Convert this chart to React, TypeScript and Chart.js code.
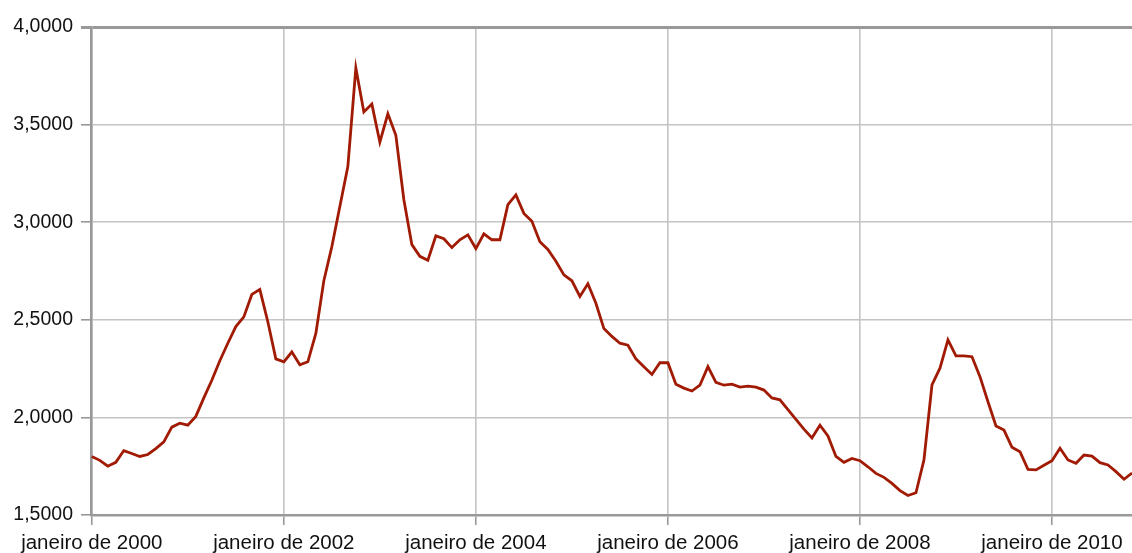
import React, { useEffect, useRef } from "react";
import { Chart, registerables } from "chart.js";

Chart.register(...registerables);

// Monthly BRL/USD rate, January 2000 – November 2010
const rates2000 = [1.8, 1.78, 1.75, 1.77, 1.83, 1.815, 1.8, 1.81, 1.84, 1.875, 1.95, 1.97];
const rates2001 = [1.96, 2.005, 2.1, 2.19, 2.29, 2.38, 2.465, 2.515, 2.63, 2.655, 2.49, 2.3];
const rates2002 = [2.285, 2.335, 2.27, 2.285, 2.43, 2.7, 2.875, 3.08, 3.285, 3.79, 3.565, 3.605];
const rates2003 = [3.41, 3.555, 3.445, 3.115, 2.885, 2.825, 2.805, 2.93, 2.915, 2.87, 2.91, 2.935];
const rates2004 = [2.865, 2.94, 2.91, 2.91, 3.09, 3.14, 3.045, 3.005, 2.9, 2.86, 2.8, 2.73];
const rates2005 = [2.7, 2.62, 2.685, 2.585, 2.455, 2.415, 2.38, 2.37, 2.3, 2.26, 2.22, 2.28];
const rates2006 = [2.28, 2.17, 2.15, 2.135, 2.165, 2.26, 2.18, 2.165, 2.17, 2.155, 2.16, 2.155];
const rates2007 = [2.14, 2.1, 2.09, 2.04, 1.99, 1.94, 1.895, 1.96, 1.905, 1.8, 1.77, 1.79];
const rates2008 = [1.778, 1.747, 1.713, 1.693, 1.662, 1.625, 1.6, 1.614, 1.782, 2.166, 2.252, 2.397];
const rates2009 = [2.315, 2.315, 2.311, 2.209, 2.08, 1.956, 1.935, 1.847, 1.824, 1.734, 1.731, 1.755];
const rates2010 = [1.778, 1.842, 1.782, 1.765, 1.807, 1.802, 1.768, 1.756, 1.722, 1.683, 1.715];

const rates = [
  ...rates2000, ...rates2001, ...rates2002, ...rates2003, ...rates2004, ...rates2005,
  ...rates2006, ...rates2007, ...rates2008, ...rates2009, ...rates2010,
];

// x ticks: month index since January 2000
const xTickMonths = [0, 24, 48, 72, 96, 120];
const xTickLabels = [
  "janeiro de 2000",
  "janeiro de 2002",
  "janeiro de 2004",
  "janeiro de 2006",
  "janeiro de 2008",
  "janeiro de 2010",
];
const yTicks = [1.5, 2.0, 2.5, 3.0, 3.5, 4.0];

const FONT = "Arial, 'Liberation Sans', sans-serif";

export default function App() {
  const canvasRef = useRef<HTMLCanvasElement | null>(null);

  useEffect(() => {
    const canvas = canvasRef.current;
    if (!canvas) return;
    const points = rates.map((v, i) => ({ x: i, y: v }));
    const chart = new Chart(canvas, {
      type: "line",
      data: {
        datasets: [
          {
            label: "Câmbio",
            data: points,
            borderColor: "#a01a04",
            borderWidth: 2.8,
            pointRadius: 0,
            tension: 0,
            fill: false,
          },
        ],
      },
      options: {
        animation: false,
        responsive: true,
        maintainAspectRatio: false,
        layout: { padding: { top: 27, left: 0, right: 0, bottom: 0 } },
        plugins: {
          legend: { display: false },
          tooltip: { enabled: false },
        },
        scales: {
          x: {
            type: "linear",
            min: -0.1,
            max: 130,
            afterBuildTicks: (s: any) => {
              s.ticks = xTickMonths.map((v) => ({ value: v }));
            },
            afterFit: (s: any) => {
              s.height = 38;
            },
            ticks: {
              autoSkip: false,
              maxRotation: 0,
              padding: 6,
              color: "#111",
              font: { family: FONT, size: 20.5 },
              callback: (v: any) => {
                const k = xTickMonths.indexOf(Number(v));
                return k >= 0 ? xTickLabels[k] : "";
              },
            },
            grid: {
              color: "#c4c4c4",
              lineWidth: 1.6,
              tickColor: "#999",
              tickLength: 10,
            },
            border: { display: true, color: "#999", width: 2.5 },
          },
          y: {
            type: "linear",
            min: 1.5,
            max: 4.0,
            afterBuildTicks: (s: any) => {
              s.ticks = yTicks.map((v) => ({ value: v }));
            },
            afterFit: (s: any) => {
              s.width = 91;
            },
            ticks: {
              padding: 8,
              color: "#111",
              font: { family: FONT, size: 19.5 },
              callback: (v: any) => Number(v).toFixed(4).replace(".", ","),
            },
            grid: {
              color: (ctx: any) => (ctx.tick && ctx.tick.value === 4 ? "#999" : "#c4c4c4"),
              lineWidth: (ctx: any) => (ctx.tick && ctx.tick.value === 4 ? 3 : 1.6),
              tickColor: "#999",
              tickLength: 10,
            },
            border: { display: true, color: "#999", width: 2.5 },
          },
        },
      },
    });
    return () => chart.destroy();
  }, []);

  return (
    <div style={{ position: "fixed", left: 0, top: 0, width: 1132, height: 553, background: "#fff" }}>
      <canvas ref={canvasRef} />
    </div>
  );
}
